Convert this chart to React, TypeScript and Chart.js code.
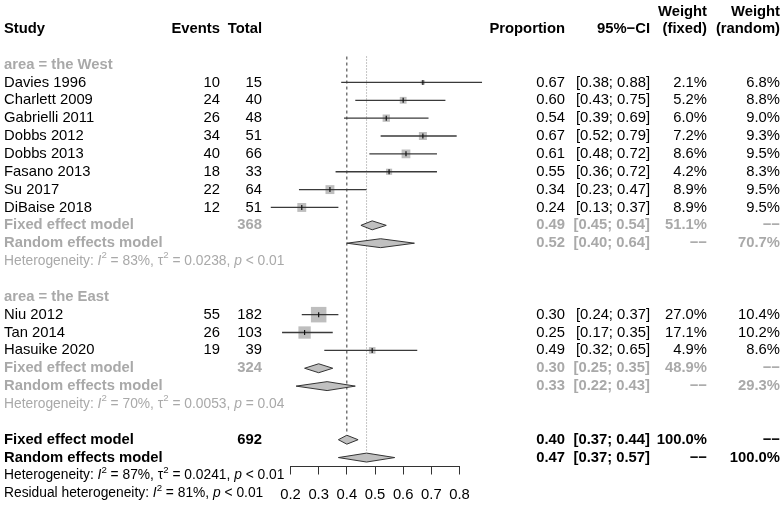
import React, { useEffect, useRef } from 'react';
import { Chart, registerables } from 'chart.js';
Chart.register(...registerables);

const FONT = '"Liberation Sans", Arial, Helvetica, sans-serif';
const FS = 14.8;
const FS_HET = 13.8;
const BLACK = '#000000';
const GREY = '#a9a9a9';

// ---- data ----
const studies = ['Davies 1996', 'Charlett 2009', 'Gabrielli 2011', 'Dobbs 2012', 'Dobbs 2013', 'Fasano 2013', 'Su 2017', 'DiBaise 2018', 'Niu 2012', 'Tan 2014', 'Hasuike 2020'];
const groups = ['the West', 'the West', 'the West', 'the West', 'the West', 'the West', 'the West', 'the West', 'the East', 'the East', 'the East'];
const events = [10, 24, 26, 34, 40, 18, 22, 12, 55, 26, 19];
const totals = [15, 40, 48, 51, 66, 33, 64, 51, 182, 103, 39];
const proportions = [0.67, 0.60, 0.54, 0.67, 0.61, 0.55, 0.34, 0.24, 0.30, 0.25, 0.49];
const lowers = [0.38, 0.43, 0.39, 0.52, 0.48, 0.36, 0.23, 0.13, 0.24, 0.17, 0.32];
const uppers = [0.88, 0.75, 0.69, 0.79, 0.72, 0.72, 0.47, 0.37, 0.37, 0.35, 0.65];
const weightFixed = [2.1, 5.2, 6.0, 7.2, 8.6, 4.2, 8.9, 8.9, 27.0, 17.1, 4.9];
const weightRandom = [6.8, 8.8, 9.0, 9.3, 9.5, 8.3, 9.5, 9.5, 10.4, 10.2, 8.6];

const groupNames = ['the West', 'the East'];
const groupTotals = [368, 324];
const groupFixedEst = [0.49, 0.30];
const groupFixedLo = [0.45, 0.25];
const groupFixedHi = [0.54, 0.35];
const groupFixedW = ['51.1%', '48.9%'];
const groupRandomEst = [0.52, 0.33];
const groupRandomLo = [0.40, 0.22];
const groupRandomHi = [0.64, 0.43];
const groupRandomW = ['70.7%', '29.3%'];
const groupI2 = [83, 70];
const groupTau2 = ['0.0238', '0.0053'];
const groupP = ['< 0.01', '= 0.04'];

const overallTotal = 692;
const overallFixed = [0.40, 0.37, 0.44];
const overallRandom = [0.47, 0.37, 0.57];
const overallI2 = 87;
const overallTau2 = '0.0241';
const overallP = '< 0.01';
const residualI2 = 81;
const residualP = '< 0.01';

const xTicks = [0.2, 0.3, 0.4, 0.5, 0.6, 0.7, 0.8];

type Seg = { t: string; i?: boolean; sup?: boolean };
type TextItem = { row: number; x: number; align: CanvasTextAlign; text?: string; segs?: Seg[]; bold?: boolean; color: string };

const f2 = (v: number) => v.toFixed(2);
const ci = (lo: number, hi: number) => `[${f2(lo)}; ${f2(hi)}]`;
const DASH = '\u2212\u2212';

const COL_STUDY = 4;
const COL_EVENTS = 220;
const COL_TOTAL = 262;
const COL_PROP = 565;
const COL_CI = 650;
const COL_WF = 707;
const COL_WR = 780;

function hetSegs(i2: number, tau2: string | null, p: string, prefix: string): Seg[] {
  const s: Seg[] = [{ t: prefix }, { t: 'I', i: true }, { t: '2', sup: true }, { t: ` = ${i2}%, ` }];
  if (tau2 !== null) {
    s.push({ t: '\u03c4' }, { t: '2', sup: true }, { t: ` = ${tau2}, ` });
  }
  s.push({ t: 'p', i: true }, { t: ` ${p}` });
  return s;
}

export default function App() {
  const ref = useRef<HTMLCanvasElement>(null);

  useEffect(() => {
    const canvas = ref.current!;
    const texts: TextItem[] = [];
    const ciLines: any[] = [];
    const squares: { x: number; y: number }[] = [];
    const squareR: number[] = [];
    const diamonds: any[] = [];

    // headers
    texts.push({ row: 0, x: COL_STUDY, align: 'left', text: 'Study', bold: true, color: BLACK });
    texts.push({ row: 0, x: COL_EVENTS, align: 'right', text: 'Events', bold: true, color: BLACK });
    texts.push({ row: 0, x: COL_TOTAL, align: 'right', text: 'Total', bold: true, color: BLACK });
    texts.push({ row: 0, x: COL_PROP, align: 'right', text: 'Proportion', bold: true, color: BLACK });
    texts.push({ row: 0, x: COL_CI, align: 'right', text: '95%\u2212CI', bold: true, color: BLACK });
    texts.push({ row: -0.97, x: COL_WF, align: 'right', text: 'Weight', bold: true, color: BLACK });
    texts.push({ row: 0, x: COL_WF, align: 'right', text: '(fixed)', bold: true, color: BLACK });
    texts.push({ row: -0.97, x: COL_WR, align: 'right', text: 'Weight', bold: true, color: BLACK });
    texts.push({ row: 0, x: COL_WR, align: 'right', text: '(random)', bold: true, color: BLACK });

    const diamond = (est: number, lo: number, hi: number, r: number) => ({
      type: 'scatter',
      data: [
        { x: lo, y: r },
        { x: est, y: r - 0.25 },
        { x: hi, y: r },
        { x: est, y: r + 0.25 },
        { x: lo, y: r },
      ],
      showLine: true,
      fill: 'shape',
      backgroundColor: '#c0c0c0',
      borderColor: '#333333',
      borderWidth: 1,
      pointRadius: 0,
      clip: false,
      order: 1,
    });

    let row = 2;
    groupNames.forEach((g, gi) => {
      texts.push({ row, x: COL_STUDY, align: 'left', text: `area = ${g}`, bold: true, color: GREY });
      row++;
      studies.forEach((s, i) => {
        if (groups[i] !== g) return;
        texts.push({ row, x: COL_STUDY, align: 'left', text: s, color: BLACK });
        texts.push({ row, x: COL_EVENTS, align: 'right', text: String(events[i]), color: BLACK });
        texts.push({ row, x: COL_TOTAL, align: 'right', text: String(totals[i]), color: BLACK });
        texts.push({ row, x: COL_PROP, align: 'right', text: f2(proportions[i]), color: BLACK });
        texts.push({ row, x: COL_CI, align: 'right', text: ci(lowers[i], uppers[i]), color: BLACK });
        texts.push({ row, x: COL_WF, align: 'right', text: weightFixed[i].toFixed(1) + '%', color: BLACK });
        texts.push({ row, x: COL_WR, align: 'right', text: weightRandom[i].toFixed(1) + '%', color: BLACK });
        ciLines.push({
          type: 'scatter',
          data: [{ x: lowers[i], y: row }, { x: uppers[i], y: row }],
          showLine: true,
          borderColor: '#3a3a3a',
          borderWidth: 1.3,
          pointRadius: 0,
          clip: false,
          order: 1,
        });
        squares.push({ x: proportions[i], y: row });
        const side = 15.5 * Math.sqrt(weightFixed[i] / 27);
        squareR.push(side / Math.SQRT2);
        row++;
      });
      // fixed
      texts.push({ row, x: COL_STUDY, align: 'left', text: 'Fixed effect model', bold: true, color: GREY });
      texts.push({ row, x: COL_TOTAL, align: 'right', text: String(groupTotals[gi]), bold: true, color: GREY });
      texts.push({ row, x: COL_PROP, align: 'right', text: f2(groupFixedEst[gi]), bold: true, color: GREY });
      texts.push({ row, x: COL_CI, align: 'right', text: ci(groupFixedLo[gi], groupFixedHi[gi]), bold: true, color: GREY });
      texts.push({ row, x: COL_WF, align: 'right', text: groupFixedW[gi], bold: true, color: GREY });
      texts.push({ row, x: COL_WR, align: 'right', text: DASH, bold: true, color: GREY });
      diamonds.push(diamond(groupFixedEst[gi], groupFixedLo[gi], groupFixedHi[gi], row));
      row++;
      texts.push({ row, x: COL_STUDY, align: 'left', text: 'Random effects model', bold: true, color: GREY });
      texts.push({ row, x: COL_PROP, align: 'right', text: f2(groupRandomEst[gi]), bold: true, color: GREY });
      texts.push({ row, x: COL_CI, align: 'right', text: ci(groupRandomLo[gi], groupRandomHi[gi]), bold: true, color: GREY });
      texts.push({ row, x: COL_WF, align: 'right', text: DASH, bold: true, color: GREY });
      texts.push({ row, x: COL_WR, align: 'right', text: groupRandomW[gi], bold: true, color: GREY });
      diamonds.push(diamond(groupRandomEst[gi], groupRandomLo[gi], groupRandomHi[gi], row));
      row++;
      texts.push({ row, x: COL_STUDY, align: 'left', segs: hetSegs(groupI2[gi], groupTau2[gi], groupP[gi], 'Heterogeneity: '), color: GREY });
      row += 2;
    });
    // overall
    const fixedRow = row;
    texts.push({ row, x: COL_STUDY, align: 'left', text: 'Fixed effect model', bold: true, color: BLACK });
    texts.push({ row, x: COL_TOTAL, align: 'right', text: String(overallTotal), bold: true, color: BLACK });
    texts.push({ row, x: COL_PROP, align: 'right', text: f2(overallFixed[0]), bold: true, color: BLACK });
    texts.push({ row, x: COL_CI, align: 'right', text: ci(overallFixed[1], overallFixed[2]), bold: true, color: BLACK });
    texts.push({ row, x: COL_WF, align: 'right', text: '100.0%', bold: true, color: BLACK });
    texts.push({ row, x: COL_WR, align: 'right', text: DASH, bold: true, color: BLACK });
    diamonds.push(diamond(overallFixed[0], overallFixed[1], overallFixed[2], row));
    row++;
    const randomRow = row;
    texts.push({ row, x: COL_STUDY, align: 'left', text: 'Random effects model', bold: true, color: BLACK });
    texts.push({ row, x: COL_PROP, align: 'right', text: f2(overallRandom[0]), bold: true, color: BLACK });
    texts.push({ row, x: COL_CI, align: 'right', text: ci(overallRandom[1], overallRandom[2]), bold: true, color: BLACK });
    texts.push({ row, x: COL_WF, align: 'right', text: DASH, bold: true, color: BLACK });
    texts.push({ row, x: COL_WR, align: 'right', text: '100.0%', bold: true, color: BLACK });
    diamonds.push(diamond(overallRandom[0], overallRandom[1], overallRandom[2], row));
    row++;
    texts.push({ row, x: COL_STUDY, align: 'left', segs: hetSegs(overallI2, overallTau2, overallP, 'Heterogeneity: '), color: BLACK });
    row++;
    texts.push({ row, x: COL_STUDY, align: 'left', segs: hetSegs(residualI2, null, residualP, 'Residual heterogeneity: '), color: BLACK });

    const refTop = 1.55;
    const datasets: any[] = [
      {
        type: 'scatter',
        data: [{ x: overallFixed[0], y: refTop }, { x: overallFixed[0], y: fixedRow - 0.3 }],
        showLine: true,
        borderColor: '#333333',
        borderWidth: 1,
        borderDash: [3, 3],
        pointRadius: 0,
        clip: false,
        order: 5,
      },
      {
        type: 'scatter',
        data: [{ x: overallRandom[0], y: refTop }, { x: overallRandom[0], y: randomRow - 0.3 }],
        showLine: true,
        borderColor: '#8c8c8c',
        borderWidth: 1,
        borderDash: [1, 2],
        pointRadius: 0,
        clip: false,
        order: 5,
      },
      {
        type: 'scatter',
        data: squares,
        pointStyle: 'rect',
        pointRadius: squareR,
        backgroundColor: '#bebebe',
        borderWidth: 0,
        clip: false,
        order: 3,
      },
      ...ciLines,
      {
        type: 'scatter',
        data: squares,
        pointStyle: 'line',
        rotation: 90,
        pointRadius: 2.5,
        borderColor: '#111111',
        borderWidth: 1.2,
        clip: false,
        order: 0,
      },
      ...diamonds,
    ];

    const textPlugin = {
      id: 'forestText',
      afterDraw(chart: any) {
        const ctx = chart.ctx as CanvasRenderingContext2D;
        const ys = chart.scales.y;
        ctx.save();
        ctx.textBaseline = 'middle';
        for (const t of texts) {
          const y = ys.getPixelForValue(t.row);
          ctx.fillStyle = t.color;
          if (t.text !== undefined) {
            ctx.font = `${t.bold ? 'bold ' : ''}${FS}px ${FONT}`;
            ctx.textAlign = t.align;
            ctx.fillText(t.text, t.x, y);
          } else if (t.segs) {
            ctx.textAlign = 'left';
            let cx = t.x;
            for (const s of t.segs) {
              const fs = s.sup ? FS_HET * 0.7 : FS_HET;
              ctx.font = `${s.i ? 'italic ' : ''}${t.bold ? 'bold ' : ''}${fs}px ${FONT}`;
              const dy = s.sup ? -FS_HET * 0.38 : 0;
              ctx.fillText(s.t, cx, y + dy);
              cx += ctx.measureText(s.t).width;
            }
          }
        }
        ctx.restore();
      },
    };

    const chart = new Chart(canvas, {
      type: 'scatter',
      data: { datasets },
      options: {
        animation: false,
        responsive: false,
        events: [],
        layout: { padding: { left: 290.5, right: 784 - 459.5, top: 8, bottom: 0 } },
        plugins: { legend: { display: false }, tooltip: { enabled: false } },
        scales: {
          x: {
            type: 'linear',
            min: 0.2,
            max: 0.8,
            position: 'bottom',
            afterBuildTicks: (s: any) => {
              s.ticks = xTicks.map((v) => ({ value: v }));
            },
            afterFit: (s: any) => {
              s.height = 41.5;
            },
            ticks: {
              font: { family: FONT, size: FS },
              color: BLACK,
              padding: 12,
              maxRotation: 0,
              autoSkip: false,
              callback: (v: any) => Number(v).toFixed(1),
            },
            grid: { drawOnChartArea: false, drawTicks: true, tickLength: 8, color: '#333333', lineWidth: 1 },
            border: { display: true, color: '#333333', width: 1 },
          },
          y: { type: 'linear', min: -1, max: 24.5, reverse: true, display: false },
        },
      },
      plugins: [textPlugin],
    } as any);

    return () => chart.destroy();
  }, []);

  return (
    <div style={{ position: 'fixed', left: 0, top: 0, width: 784, height: 508, background: '#ffffff' }}>
      <canvas ref={ref} width={784} height={508} style={{ display: 'block', width: 784, height: 508 }} />
    </div>
  );
}
